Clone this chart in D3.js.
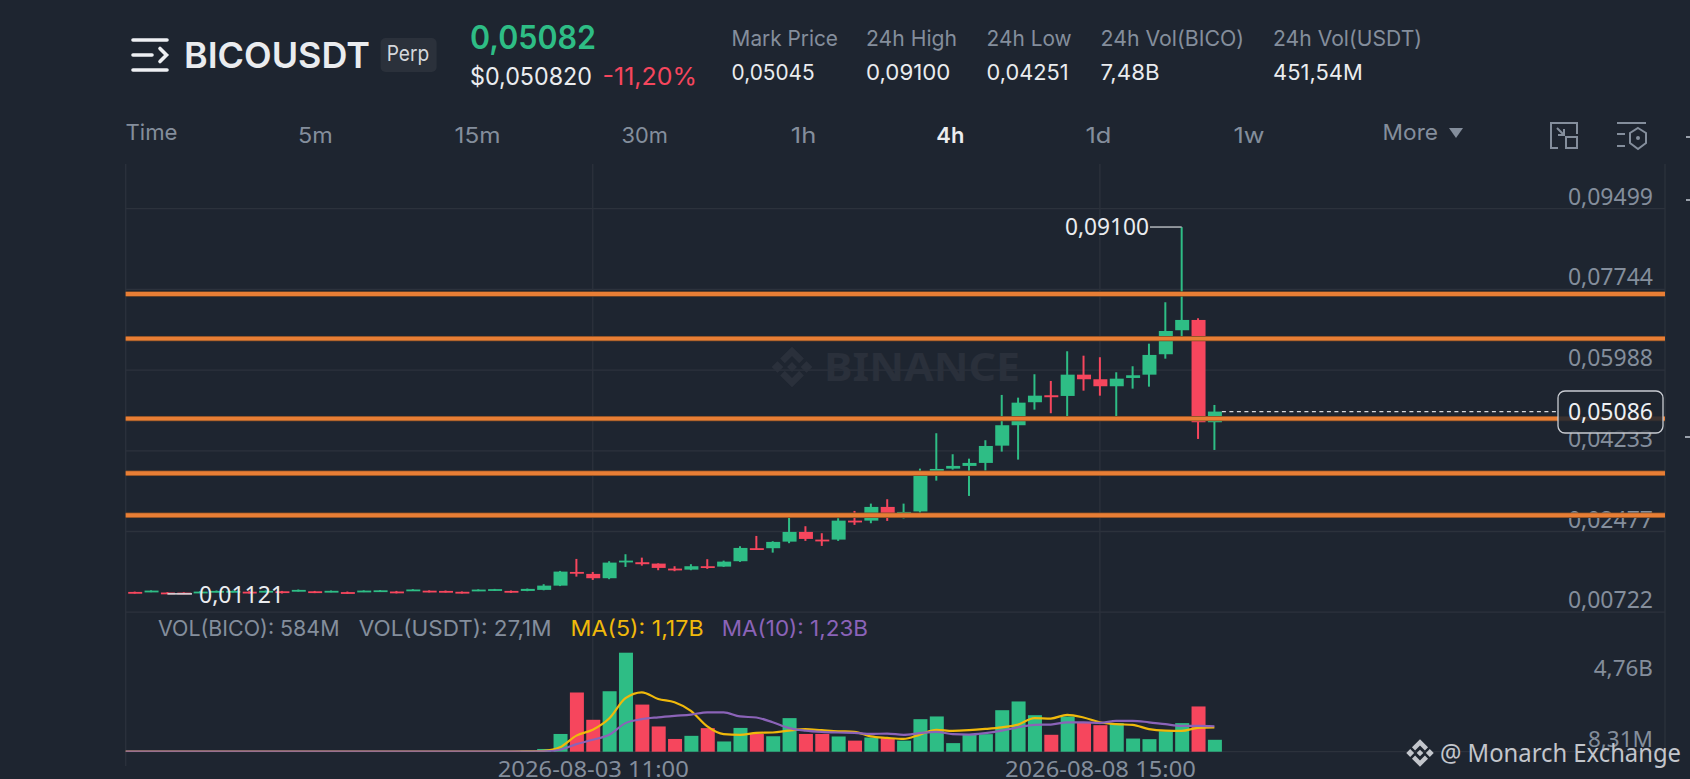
<!DOCTYPE html>
<html>
<head>
<meta charset="utf-8">
<script src="https://cdnjs.cloudflare.com/ajax/libs/d3/7.8.5/d3.min.js"></script>
<style>
html,body{margin:0;padding:0;background:#1e2530;overflow:hidden}
svg{display:block}
</style>
</head>
<body>
<svg id="c" width="1690" height="779"></svg>
<script>
// ---------- data ----------
const open  = [.01163,.01163,.01150,.01148,.01142,.01163,.01157,.01168,.01163,.01177,.01179,.01177,.01159,.01159,.01163,.01168,.01172,.01187,.01190,.01185,.01166,.01185,.01192,.01185,.01185,.01207,.01300,.01598,.01555,.01461,.01816,.01809,.01779,.01670,.01648,.01722,.01714,.01831,.02114,.02114,.02257,.02468,.02301,.02301,.02714,.02714,.03012,.02853,.02914,.03693,.03845,.03904,.03969,.04345,.04789,.05289,.05441,.05426,.05889,.05789,.05637,.05817,.05889,.06333,.06855,.07079,.04854];
const high  = [.01170,.01198,.01159,.01155,.01181,.01194,.01192,.01179,.01194,.01185,.01216,.01185,.01194,.01172,.01198,.01203,.01185,.01224,.01198,.01194,.01174,.01220,.01229,.01194,.01237,.01331,.01620,.01881,.01598,.01831,.01983,.01909,.01785,.01722,.01766,.01875,.01844,.02157,.02381,.02266,.02838,.02592,.02440,.02766,.02925,.03084,.03179,.03084,.03845,.04615,.04158,.04062,.04463,.05448,.05389,.05898,.05752,.06398,.06302,.06268,.05941,.06072,.06563,.07464,.09100,.07116,.05230];
const low   = [.01127,.01157,.01121,.01122,.01135,.01155,.01150,.01129,.01157,.01129,.01172,.01137,.01155,.01122,.01159,.01163,.01131,.01183,.01153,.01150,.01129,.01181,.01185,.01140,.01179,.01198,.01290,.01496,.01424,.01440,.01707,.01735,.01635,.01614,.01635,.01664,.01707,.01816,.02077,.02018,.02223,.02273,.02164,.02273,.02621,.02657,.02708,.02762,.02888,.03584,.03823,.03251,.03801,.04215,.04041,.05128,.05050,.04976,.05541,.05432,.04976,.05585,.05628,.06237,.06637,.04491,.04251];
const close = [.01135,.01192,.01129,.01127,.01170,.01185,.01185,.01137,.01187,.01144,.01207,.01144,.01187,.01131,.01192,.01198,.01144,.01216,.01163,.01159,.01135,.01214,.01224,.01146,.01229,.01300,.01605,.01561,.01461,.01801,.01844,.01766,.01685,.01642,.01722,.01692,.01822,.02120,.02092,.02251,.02468,.02316,.02273,.02714,.02679,.03012,.02860,.02903,.03686,.03838,.03904,.03969,.04338,.04789,.05280,.05432,.05398,.05889,.05789,.05637,.05802,.05876,.06318,.06839,.07079,.04854,.05086];
// volume in billions
const volume = [.012,.010,.011,.009,.010,.012,.011,.010,.009,.012,.010,.011,.009,.010,.012,.011,.010,.009,.011,.012,.010,.012,.015,.020,.050,.14,.86,2.85,1.54,2.91,4.76,2.27,1.22,.62,.77,1.14,.50,1.15,.86,.75,1.62,.86,.86,.74,.54,.69,.66,.54,1.57,1.70,.42,.82,.85,2.00,2.42,1.76,.82,1.70,1.41,1.28,1.38,.64,.61,.99,1.38,2.18,.58];
// moving averages; first entry belongs to the candle that sits off the left edge
const ma5  = [.010,.010,.011,.011,.010,.010,.010,.011,.011,.010,.010,.011,.011,.010,.010,.011,.011,.010,.010,.011,.011,.011,.011,.012,.013,.020,.05,.22,.78,1.06,1.60,2.58,2.86,2.54,2.38,1.97,1.22,.85,.82,.91,.93,1.02,1.09,1.04,.99,.96,.74,.67,.62,.83,1.06,1.01,1.04,1.10,1.18,1.31,1.62,1.60,1.78,1.65,1.42,1.33,1.30,1.09,1.02,1.01,1.15,1.17];
const ma10 = [.011,.011,.011,.011,.011,.011,.010,.010,.011,.011,.011,.011,.010,.010,.011,.011,.011,.011,.010,.010,.011,.011,.011,.011,.012,.015,.02,.10,.37,.58,.82,1.38,1.57,1.66,1.73,1.79,1.90,1.90,1.70,1.65,1.42,1.14,1.02,.96,.93,.91,.86,.88,.82,.90,.96,.85,.83,.90,1.02,1.18,1.30,1.31,1.42,1.42,1.39,1.49,1.49,1.42,1.33,1.25,1.25,1.23];
const levels = [.07644,.06672,.04932,.03745,.02831];
const priceTicks = [.09499,.07744,.05988,.04233,.02477,.00722];
const volTicks = [4.76,.00831];
const timeTickIndex = [28,59];
const timeTickLabels = ["2026-08-03 11:00","2026-08-08 15:00"];
const lastPrice = .05086;
const highestIndex = 64, lowestIndex = 2;
const tabLabels = ["Time","5m","15m","30m","1h","4h","1d","1w","More"];
const statLabels = ["Mark Price","24h High","24h Low","24h Vol(BICO)","24h Vol(USDT)"];
const statValues = ["0,05045","0,09100","0,04251","7,48B","451,54M"];
const legendLabels = ["VOL(BICO): 584M","VOL(USDT): 27,1M","MA(5): 1,17B","MA(10): 1,23B"];

// ---------- layout ----------
const L=125.7, R=1665, TOP=164, PB=612.2, VB=751.7;
const GRAY="#848e9c", GRID="#2c323c", GREEN="#2ebd85", RED="#f6465d", BG="#1e2530";
const UI="Inter, 'Noto Sans', sans-serif", CH="'Noto Sans', sans-serif";
const comma = s => s.replace(".",",");
const svg=d3.select("#c");

const x=d3.scaleLinear().domain([0,66]).range([134.7,1214.4]);
const y=d3.scaleLinear().domain([.00722,.09499]).range([PB,208.7]);
const v=d3.scaleLinear().domain([.00831,4.76]).range([VB,652.7]);
const BW=14;

function label(t,px,py,w,size,color,weight,font){
  const n=svg.append("text").attr("x",px).attr("y",py).attr("font-size",size)
    .attr("fill",color).attr("font-weight",weight||400).attr("font-family",font||UI).text(t);
  if(w) n.attr("textLength",w).attr("lengthAdjust","spacingAndGlyphs");
  return n;
}

// ---------- header ----------
const ham=svg.append("g").attr("stroke","#eef0f3").attr("stroke-linecap","round").attr("fill","none").attr("stroke-width",3.6);
ham.append("path").attr("d","M133 40H167M133 55H152M133 70H167M160 48.5L166.5 55L160 61.5");
label("BICOUSDT",184,67.5,186,35.5,"#eaecef",600);
svg.append("rect").attr("x",380.6).attr("y",38).attr("width",56).attr("height",34).attr("rx",5).attr("fill","#2b313b");
label("Perp",386.7,61,42.5,21,"#d5d8dd");
label("0,05082",470,49,126,32,GREEN,600);
label("$0,050820",470,84.5,122,24,"#eaecef");
label("-11,20%",602.6,84.5,94.4,24,RED);
const statX=[731.6,866,986.6,1100.5,1273], statW=[106.4,91,85,143.5,149], valW=[83,84.4,82,59,89.7];
statLabels.forEach((t,i)=>label(t,statX[i],45.7,statW[i],21.5,GRAY));
statValues.forEach((t,i)=>label(t,statX[i],79.5,valW[i],21,"#eaecef"));
const tabX=[125.5,298,454.6,621.4,790.8,936.3,1085.4,1233.5,1382.6], tabW=[52,34.7,45.9,46.4,25.5,28,26,31,55.4], tabY=[140,143,143,143,143,143,143,143,140];
tabLabels.forEach((t,i)=>label(t,tabX[i],tabY[i],tabW[i],22,i==5?"#eaecef":GRAY,i==5?600:400));
svg.append("path").attr("d","M1449 128H1463L1456 138Z").attr("fill",GRAY);
const ic=svg.append("g").attr("fill","none").attr("stroke",GRAY).attr("stroke-width",2);
ic.append("path").attr("d","M1558 148H1551V123H1577V134");
ic.append("path").attr("d","M1557 128L1564 135M1564 129V135H1558");
ic.append("rect").attr("x",1566).attr("y",137).attr("width",11).attr("height",11);
ic.append("path").attr("d","M1617 123H1646M1617 134H1625M1617 146H1625M1638 128L1646 133V143L1638 149L1630 143V133Z");
ic.append("circle").attr("cx",1638).attr("cy",138).attr("r",2).attr("fill",GRAY).attr("stroke","none");
svg.append("path").attr("d","M1686 137H1690M1686 200H1690M1685 437H1690").attr("stroke","#9aa1ab").attr("stroke-width",2);

// ---------- grid ----------
const grid=svg.append("g").attr("stroke",GRID).attr("stroke-width",1.3);
priceTicks.forEach(d=>grid.append("line").attr("x1",L).attr("x2",R).attr("y1",y(d)).attr("y2",y(d)));
grid.append("line").attr("x1",L).attr("x2",R).attr("y1",VB).attr("y2",VB);
timeTickIndex.forEach(d=>grid.append("line").attr("x1",x(d)).attr("x2",x(d)).attr("y1",TOP).attr("y2",VB));
grid.append("line").attr("x1",L).attr("x2",L).attr("y1",TOP).attr("y2",766);
grid.append("line").attr("x1",R).attr("x2",R).attr("y1",TOP).attr("y2",766);

// ---------- watermark ----------
function logo(g,cx,cy,s,fill){
  const t=g.append("g").attr("transform",`translate(${cx},${cy}) scale(${s})`).attr("fill",fill);
  t.append("path").attr("d","M-1 -.4L-.6 0L-1 .4L-1.4 0ZM1 -.4L1.4 0L1 .4L.6 0Z");
  t.append("path").attr("d","M0 -1.4L.82 -.58L.5 -.26L0 -.76L-.5 -.26L-.82 -.58ZM0 1.4L-.82 .58L-.5 .26L0 .76L.5 .26L.82 .58Z");
  t.append("path").attr("d","M0 -.34L.34 0L0 .34L-.34 0Z");
}
logo(svg,792,367,14.5,"#2a303b");
label("BINANCE",824,381,196,40,"#2a303b",700,CH);

// ---------- candles ----------
const idx=d3.range(open.length);
const col=i=>close[i]>=open[i]?GREEN:RED;
const cg=svg.append("g");
cg.selectAll("line").data(idx).join("line")
  .attr("x1",x).attr("x2",x).attr("y1",i=>y(high[i])).attr("y2",i=>y(low[i]))
  .attr("stroke",col).attr("stroke-width",2);
cg.selectAll("rect").data(idx).join("rect")
  .attr("x",i=>x(i)-BW/2+.5).attr("width",BW)
  .attr("y",i=>Math.min(y(open[i]),y(close[i])))
  .attr("height",i=>Math.max(1.8,Math.abs(y(open[i])-y(close[i]))))
  .attr("fill",col);

// ---------- volume ----------
const vg=svg.append("g");
vg.selectAll("rect").data(idx).join("rect")
  .attr("x",i=>x(i)-BW/2+.5).attr("width",BW)
  .attr("y",i=>v(volume[i])).attr("height",i=>Math.max(0,VB-v(volume[i])))
  .attr("fill",col);
const maLine=d3.line().x((d,i)=>x(i-1)).y(d=>v(d)).curve(d3.curveMonotoneX);
svg.append("defs").append("clipPath").attr("id","pl").append("rect").attr("x",L).attr("y",TOP).attr("width",R-L).attr("height",VB-TOP);
svg.append("path").datum(ma5).attr("d",maLine).attr("fill","none").attr("stroke","#f0b90b").attr("stroke-width",2.2).attr("clip-path","url(#pl)");
svg.append("path").datum(ma10).attr("d",maLine).attr("fill","none").attr("stroke","#8b63b8").attr("stroke-width",2.2).attr("clip-path","url(#pl)");

// ---------- axes ----------
const pa=svg.append("g").attr("transform","translate(1653,0)")
  .call(d3.axisLeft(y).tickValues(priceTicks).tickSize(0).tickPadding(0).tickFormat(d=>comma(d.toFixed(5))));
pa.select(".domain").remove();
pa.selectAll("text").attr("font-family",CH).attr("font-size",23).attr("fill",GRAY).attr("dy",-4.5).attr("text-anchor","end");
const va=svg.append("g").attr("transform","translate(1653,0)")
  .call(d3.axisLeft(v).tickValues(volTicks).tickSize(0).tickPadding(0).tickFormat(d=>d>=1?comma(d.toFixed(2))+"B":comma((d*1000).toFixed(2))+"M"));
va.select(".domain").remove();
va.selectAll("text").attr("font-family",CH).attr("font-size",22.5).attr("fill",GRAY).attr("text-anchor","end").attr("dy",(d,i)=>i==0?23:-5.5);
const ta=svg.append("g").attr("transform",`translate(0,${VB})`)
  .call(d3.axisBottom(x).tickValues(timeTickIndex).tickSize(0).tickPadding(0).tickFormat((d,i)=>timeTickLabels[i]));
ta.select(".domain").remove();
ta.selectAll("text").attr("font-family",CH).attr("font-size",22).attr("fill",GRAY).attr("y",25).attr("dy",0)
  .attr("textLength",191).attr("lengthAdjust","spacingAndGlyphs");

// ---------- legend ----------
const legX=[158,358.7,570.6,721.8], legW=[181.5,192.8,133,146.2], legC=[GRAY,GRAY,"#f0b90b","#8b63b8"];
legendLabels.forEach((t,i)=>label(t,legX[i],636,legW[i],21.5,legC[i],400,UI));

// ---------- price annotations ----------
svg.append("path").attr("d",`M${x(highestIndex)} ${y(high[highestIndex])}H1150`).attr("stroke","#a9adb3").attr("stroke-width",1.6).attr("fill","none");
label(comma(high[highestIndex].toFixed(5)),1065,y(high[highestIndex])+8,84,23,"#eaecef",400,CH);
svg.append("path").attr("d",`M${x(lowestIndex)} ${y(low[lowestIndex])}H192`).attr("stroke","#d0d3d8").attr("stroke-width",1.6).attr("fill","none");
label(comma(low[lowestIndex].toFixed(5)),199,y(low[lowestIndex])+9,85,23,"#eaecef",400,CH);
svg.append("line").attr("x1",x(66)+7.5).attr("x2",1558).attr("y1",y(lastPrice)).attr("y2",y(lastPrice))
  .attr("stroke","#d5d8dd").attr("stroke-width",1.3).attr("stroke-dasharray","4 3.5");

// ---------- horizontal levels ----------
const lg=svg.append("g");
levels.forEach(d=>{
  lg.append("line").attr("x1",L).attr("x2",R).attr("y1",y(d)).attr("y2",y(d)).attr("stroke","#7d4a24").attr("stroke-width",5.4);
  lg.append("line").attr("x1",L).attr("x2",R).attr("y1",y(d)).attr("y2",y(d)).attr("stroke","#e87e35").attr("stroke-width",3.8);
});

// ---------- last price box ----------
svg.append("rect").attr("x",1558).attr("y",391).attr("width",105).attr("height",42).attr("rx",7)
  .attr("fill",BG).attr("fill-opacity",.86).attr("stroke","#c9ccd2").attr("stroke-width",1.3);
label(comma(lastPrice.toFixed(5)),1653,y(lastPrice)+8,null,23,"#eef0f3",400,CH).attr("text-anchor","end");

// ---------- credit ----------
logo(svg,1420,753,9.8,"#c3c6cc");
label("@ Monarch Exchange",1440,762,241,24.5,"#c3c6cc",400,CH);
</script>
</body>
</html>
